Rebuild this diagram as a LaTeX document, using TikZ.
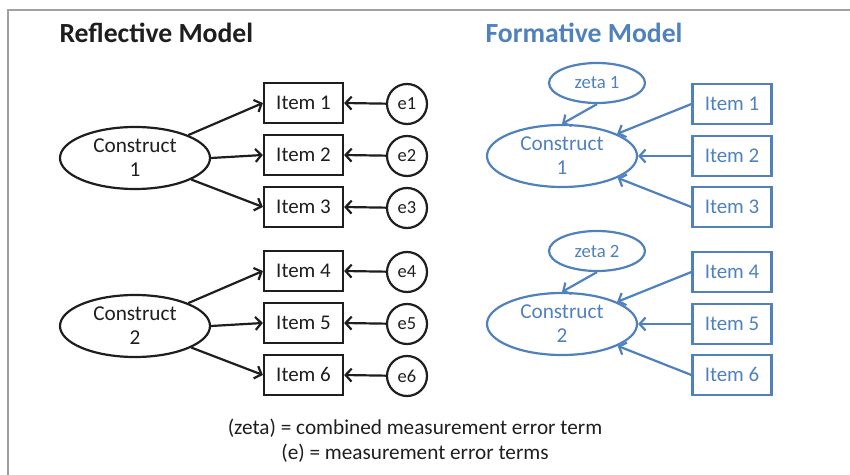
\documentclass[tikz,border=0pt]{standalone}
\usepackage{fontspec}
\setmainfont{Carlito}
\usetikzlibrary{arrows.meta,shapes.geometric}
\definecolor{fblue}{RGB}{79,129,189}
\definecolor{frame}{RGB}{160,160,160}
\definecolor{ink}{RGB}{30,30,30}
\tikzset{
  cons/.style={ellipse,draw,line width=2.2bp,minimum width=150bp,minimum height=62bp,inner sep=0pt,align=center,font=\fontsize{21.3}{24}\selectfont},
  itembox/.style={rectangle,draw,line width=2.2bp,minimum width=79bp,minimum height=40bp,inner sep=0pt,font=\fontsize{21}{24}\selectfont},
  errc/.style={circle,draw,line width=2.2bp,minimum size=40bp,inner sep=0pt,font=\fontsize{18.5}{20}\selectfont},
  zetae/.style={ellipse,draw,line width=2.2bp,minimum width=96bp,minimum height=40bp,inner sep=0pt,font=\fontsize{18.8}{20}\selectfont},
  arr/.style={line width=2.2bp,-{Straight Barb[length=6bp,width=13bp,line width=2.2bp]}},
  blk/.style={draw=ink,text=ink},
  blu/.style={draw=fblue,text=fblue},
}
\begin{document}
\begin{tikzpicture}[x=1bp,y=-1bp]
\useasboundingbox (0,0) rectangle (850,475);
\draw[frame,line width=2bp] (8,475) -- (8,10) -- (850,10);
% titles
\node[anchor=west,font=\fontsize{27.8}{30}\selectfont\bfseries,text=ink] (t1) at (56,33) {Reflective Model};
\node[anchor=west,font=\fontsize{27.8}{30}\selectfont\bfseries,text=fblue] (t2) at (482,33) {Formative Model};
% reflective
\node[cons,blk] (c1) at (135,158) {Construct\\1};
\node[itembox,blk] (i1) at (303.5,103) {Item 1};
\node[itembox,blk] (i2) at (303.5,155) {Item 2};
\node[itembox,blk] (i3) at (303.5,207) {Item 3};
\node[errc,blk] (e1) at (407,104) {e1};
\node[errc,blk] (e2) at (407,156) {e2};
\node[errc,blk] (e3) at (407,208) {e3};
\node[cons,blk] (c2) at (135,326) {Construct\\2};
\node[itembox,blk] (i4) at (303.5,271) {Item 4};
\node[itembox,blk] (i5) at (303.5,323) {Item 5};
\node[itembox,blk] (i6) at (303.5,375) {Item 6};
\node[errc,blk] (e4) at (407,272) {e4};
\node[errc,blk] (e5) at (407,324) {e5};
\node[errc,blk] (e6) at (407,376) {e6};
\foreach \c/\a/\b/\d in {c1/i1/i2/i3,c2/i4/i5/i6}{
  \draw[arr,ink] (\c) -- (\a.west);
  \draw[arr,ink] (\c.east) -- (\b.west);
  \draw[arr,ink] (\c) -- (\d.west);
}
\foreach \e/\i in {e1/i1,e2/i2,e3/i3,e4/i4,e5/i5,e6/i6}{
  \draw[arr,ink] (\e) -- (\i.east);
}
% formative
\node[zetae,blu] (z1) at (597,83) {zeta 1};
\node[cons,blu] (f1) at (562,156) {Construct\\1};
\node[itembox,blu] (g1) at (732,104) {Item 1};
\node[itembox,blu] (g2) at (732,156) {Item 2};
\node[itembox,blu] (g3) at (732,207) {Item 3};
\node[zetae,blu] (z2) at (597,251) {zeta 2};
\node[cons,blu] (f2) at (562,324) {Construct\\2};
\node[itembox,blu] (g4) at (732,272) {Item 4};
\node[itembox,blu] (g5) at (732,324) {Item 5};
\node[itembox,blu] (g6) at (732,375) {Item 6};
\foreach \z/\f/\a/\b/\d in {z1/f1/g1/g2/g3,z2/f2/g4/g5/g6}{
  \draw[arr,fblue] (\z.south) -- (\f.north);
  \draw[arr,fblue] (\a.west) -- (\f);
  \draw[arr,fblue] (\b.west) -- (\f.east);
  \draw[arr,fblue] (\d.west) -- (\f);
}
% legend
\node[align=center,text=ink,font=\fontsize{21.3}{25}\selectfont] (leg) at (415,441) {(zeta) = combined measurement error term\\(e) = measurement error terms};
\end{tikzpicture}
\end{document}
